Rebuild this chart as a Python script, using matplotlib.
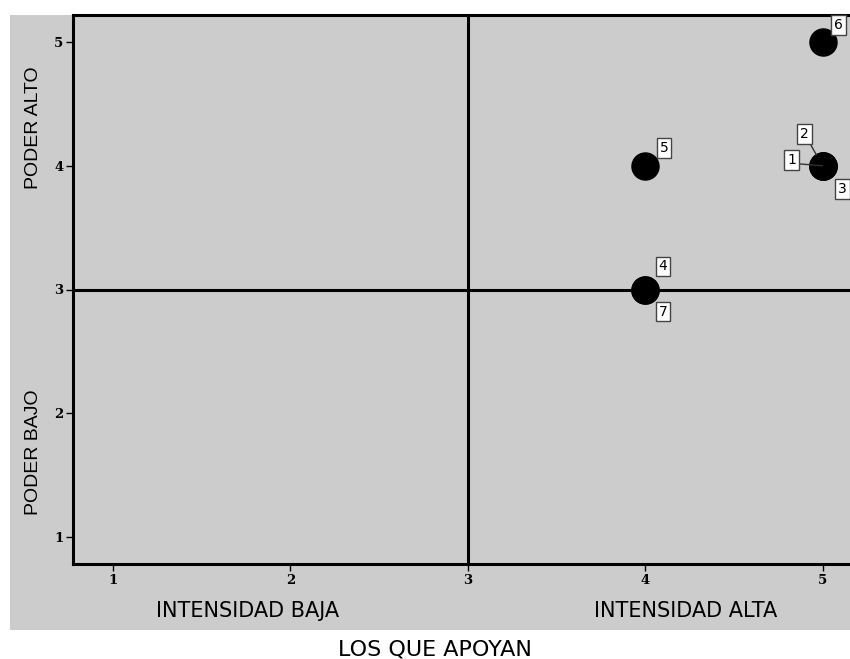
import matplotlib.pyplot as plt
from matplotlib.patches import Rectangle

# data
intensidad = [5, 5, 5, 4, 4, 5, 4]
poder = [4, 4, 4, 3, 4, 5, 3]
ids = ["1", "2", "3", "4", "5", "6", "7"]
# label offsets (pixels) relative to each point
offsets = [(-31, 6), (-18, 32), (20, -23), (18, 23), (19, 18), (16, 17), (18, -22)]
ticks = [1, 2, 3, 4, 5]

gray = "#cccccc"
fig = plt.figure(figsize=(8.5, 6.59), dpi=100)
fig.patches.append(Rectangle((10 / 850, 29 / 659), 840 / 850, 615 / 659,
                             transform=fig.transFigure, facecolor=gray,
                             edgecolor="none", zorder=-10))

ax = fig.add_axes([73 / 850, 95 / 659, 1 - 73 / 850, 549 / 659])
ax.set_facecolor(gray)
ax.set_xlim(0.775, 5.155)
ax.set_ylim(0.782, 5.218)

ax.axvline(3, color="black", lw=2.2, zorder=1)
ax.axhline(3, color="black", lw=2.2, zorder=1)
ax.scatter(intensidad, poder, s=380, color="black", zorder=3)

for xv, yv, name, (dx, dy) in zip(intensidad, poder, ids, offsets):
    arrow = None
    if name == "1":
        arrow = dict(arrowstyle="-", color="#333333", lw=1, shrinkA=0, shrinkB=0,
                     relpos=(1.0, 0.22))
    if name == "2":
        arrow = dict(arrowstyle="-", color="#333333", lw=1, shrinkA=0, shrinkB=9)
    ax.annotate(name, (xv, yv), xytext=(dx, dy), textcoords="offset pixels",
                ha="center", va="center", fontsize=10, family="DejaVu Sans",
                bbox=dict(boxstyle="square,pad=0.2", fc="white", ec="#444444", lw=1),
                arrowprops=arrow, zorder=4)

ax.set_xticks(ticks)
ax.set_yticks(ticks)
ax.tick_params(length=5, width=1, labelsize=9.5, pad=2)
for lab in ax.get_xticklabels() + ax.get_yticklabels():
    lab.set_fontweight("bold")
    lab.set_family("DejaVu Serif")
ax.spines["right"].set_visible(False)
for side in ("left", "top", "bottom"):
    ax.spines[side].set_linewidth(2.2)

fig.text(248 / 850, 1 - 611 / 659, "INTENSIDAD BAJA", ha="center", va="center",
         fontsize=15, family="DejaVu Sans")
fig.text(686 / 850, 1 - 611 / 659, "INTENSIDAD ALTA", ha="center", va="center",
         fontsize=15, family="DejaVu Sans")
fig.text(435 / 850, 1 - 649 / 659, "LOS QUE APOYAN", ha="center", va="center",
         fontsize=16, family="DejaVu Sans")
fig.text(33 / 850, 1 - 128 / 659, "PODER ALTO", rotation=90, ha="center",
         va="center", fontsize=14, family="Liberation Sans")
fig.text(33 / 850, 1 - 452 / 659, "PODER BAJO", rotation=90, ha="center",
         va="center", fontsize=14, family="Liberation Sans")

fig.savefig("out.png", dpi=100)
